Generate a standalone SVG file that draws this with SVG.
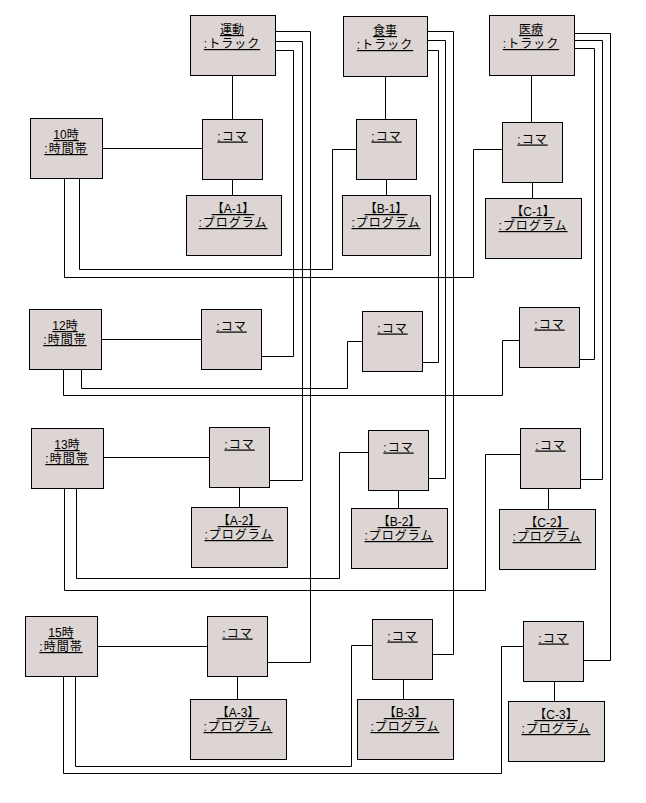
<svg xmlns="http://www.w3.org/2000/svg" width="646" height="803" viewBox="0 0 646 803">
<style>
.box{fill:#dcd5d3;stroke:#000;stroke-width:1}
.ln{fill:none;stroke:#000;stroke-width:1}
text{font-family:"Liberation Sans","Noto Sans CJK JP",sans-serif;font-size:12px;text-anchor:middle;text-decoration:underline;fill:#000}
.k{letter-spacing:1px}
</style>
<rect width="646" height="803" fill="#fff"/>
<g id="connectors" class="ln">
<path d="M232.5 75V119.5M385.5 76V119.5M531.5 75V122.5"/>
<path d="M232.5 179.5V195.5M386.5 179.5V195.5M532.5 182.5V198.5M239.5 487.5V507.5M398.5 490.5V508.5M548.5 488.5V509.5M237.5 676.5V699.5M403.5 679.5V699.5M554.5 681.5V701.5"/>
<path d="M102.5 148.5H202.5M101.5 339.5H201.5M103.5 457.5H209.5M97.5 646.5H207.5"/>
<path d="M275.5 31.5H310.5V662.5H267.5M275.5 41.5H302.5V480.5H269.5M275.5 50.5H293.5V356.5H261.5"/>
<path d="M427.5 31.5H453.5V654.5H432.5M427.5 40.5H445.5V478.5H428.5M427.5 50.5H438.5V362.5H422.5"/>
<path d="M574.5 33.5H610.5V660.5H583.5M574.5 40.5H602.5V479.5H580.5M574.5 48.5H594.5V359.5H579.5"/>
<path d="M64.5 178.5V277.5H473.5V149.5H502.5M79.5 178.5V269.5H332.5V149.5H356.5"/>
<path d="M63.5 369.5V395.5H502.5V340.5H519.5M81.5 369.5V388.5H347.5V341.5H362.5"/>
<path d="M64.5 488.5V590.5H485.5V454.5H520.5M76.5 488.5V578.5H339.5V452.5H368.5"/>
<path d="M63.5 676.5V773.5H501.5V646.5H523.5M75.5 676.5V766.5H351.5V645.5H372.5"/>
</g>
<g id="track-undou"><rect class="box" x="190.5" y="15.5" width="85" height="60"/><text x="232" y="34">運動<tspan class="k" x="232" dy="14">:トラック</tspan></text></g>
<g id="track-shokuji"><rect class="box" x="343.5" y="16.5" width="84" height="60"/><text x="385" y="35">食事<tspan class="k" x="385" dy="14">:トラック</tspan></text></g>
<g id="track-iryou"><rect class="box" x="489.5" y="15.5" width="85" height="60"/><text x="531" y="34">医療<tspan class="k" x="531" dy="14">:トラック</tspan></text></g>
<g id="time-10"><rect class="box" x="30.5" y="118.5" width="72" height="60"/><text x="66" y="139">10時<tspan class="k" x="66" dy="14">:時間帯</tspan></text></g>
<g id="time-12"><rect class="box" x="29.5" y="309.5" width="72" height="60"/><text x="65" y="330">12時<tspan class="k" x="65" dy="14">:時間帯</tspan></text></g>
<g id="time-13"><rect class="box" x="31.5" y="428.5" width="72" height="60"/><text x="67" y="449">13時<tspan class="k" x="67" dy="14">:時間帯</tspan></text></g>
<g id="time-15"><rect class="box" x="25.5" y="616.5" width="72" height="60"/><text x="61" y="637">15時<tspan class="k" x="61" dy="14">:時間帯</tspan></text></g>
<g id="koma-a1"><rect class="box" x="202.5" y="119.5" width="60" height="60"/><text class="k" x="232.5" y="140.5">:コマ</text></g>
<g id="koma-b1"><rect class="box" x="356.5" y="119.5" width="60" height="60"/><text class="k" x="386.5" y="140.5">:コマ</text></g>
<g id="koma-c1"><rect class="box" x="502.5" y="122.5" width="60" height="60"/><text class="k" x="532.5" y="143.5">:コマ</text></g>
<g id="koma-a2"><rect class="box" x="201.5" y="309.5" width="60" height="60"/><text class="k" x="231.5" y="330.5">:コマ</text></g>
<g id="koma-b2"><rect class="box" x="362.5" y="311.5" width="60" height="60"/><text class="k" x="392.5" y="332.5">:コマ</text></g>
<g id="koma-c2"><rect class="box" x="519.5" y="307.5" width="60" height="60"/><text class="k" x="549.5" y="328.5">:コマ</text></g>
<g id="koma-a3"><rect class="box" x="209.5" y="427.5" width="60" height="60"/><text class="k" x="239.5" y="448.5">:コマ</text></g>
<g id="koma-b3"><rect class="box" x="368.5" y="430.5" width="60" height="60"/><text class="k" x="398.5" y="451.5">:コマ</text></g>
<g id="koma-c3"><rect class="box" x="520.5" y="428.5" width="60" height="60"/><text class="k" x="550.5" y="449.5">:コマ</text></g>
<g id="koma-a4"><rect class="box" x="207.5" y="616.5" width="60" height="60"/><text class="k" x="237.5" y="637.5">:コマ</text></g>
<g id="koma-b4"><rect class="box" x="372.5" y="619.5" width="60" height="60"/><text class="k" x="402.5" y="640.5">:コマ</text></g>
<g id="koma-c4"><rect class="box" x="523.5" y="621.5" width="60" height="60"/><text class="k" x="553.5" y="642.5">:コマ</text></g>
<g id="prog-a1"><rect class="box" x="186.5" y="195.5" width="95" height="60"/><text x="233" y="213">【A-1】<tspan class="k" x="233" dy="14">:プログラム</tspan></text></g>
<g id="prog-b1"><rect class="box" x="342.5" y="195.5" width="88" height="60"/><text x="386" y="213">【B-1】<tspan class="k" x="386" dy="14">:プログラム</tspan></text></g>
<g id="prog-c1"><rect class="box" x="485.5" y="198.5" width="96" height="60"/><text x="533" y="216">【C-1】<tspan class="k" x="533" dy="14">:プログラム</tspan></text></g>
<g id="prog-a2"><rect class="box" x="191.5" y="507.5" width="96" height="60"/><text x="239" y="525">【A-2】<tspan class="k" x="239" dy="14">:プログラム</tspan></text></g>
<g id="prog-b2"><rect class="box" x="351.5" y="508.5" width="96" height="60"/><text x="399" y="526">【B-2】<tspan class="k" x="399" dy="14">:プログラム</tspan></text></g>
<g id="prog-c2"><rect class="box" x="499.5" y="509.5" width="96" height="60"/><text x="547" y="527">【C-2】<tspan class="k" x="547" dy="14">:プログラム</tspan></text></g>
<g id="prog-a3"><rect class="box" x="190.5" y="699.5" width="96" height="60"/><text x="238" y="717">【A-3】<tspan class="k" x="238" dy="14">:プログラム</tspan></text></g>
<g id="prog-b3"><rect class="box" x="357.5" y="699.5" width="96" height="60"/><text x="405" y="717">【B-3】<tspan class="k" x="405" dy="14">:プログラム</tspan></text></g>
<g id="prog-c3"><rect class="box" x="508.5" y="701.5" width="96" height="60"/><text x="556" y="719">【C-3】<tspan class="k" x="556" dy="14">:プログラム</tspan></text></g>
</svg>
